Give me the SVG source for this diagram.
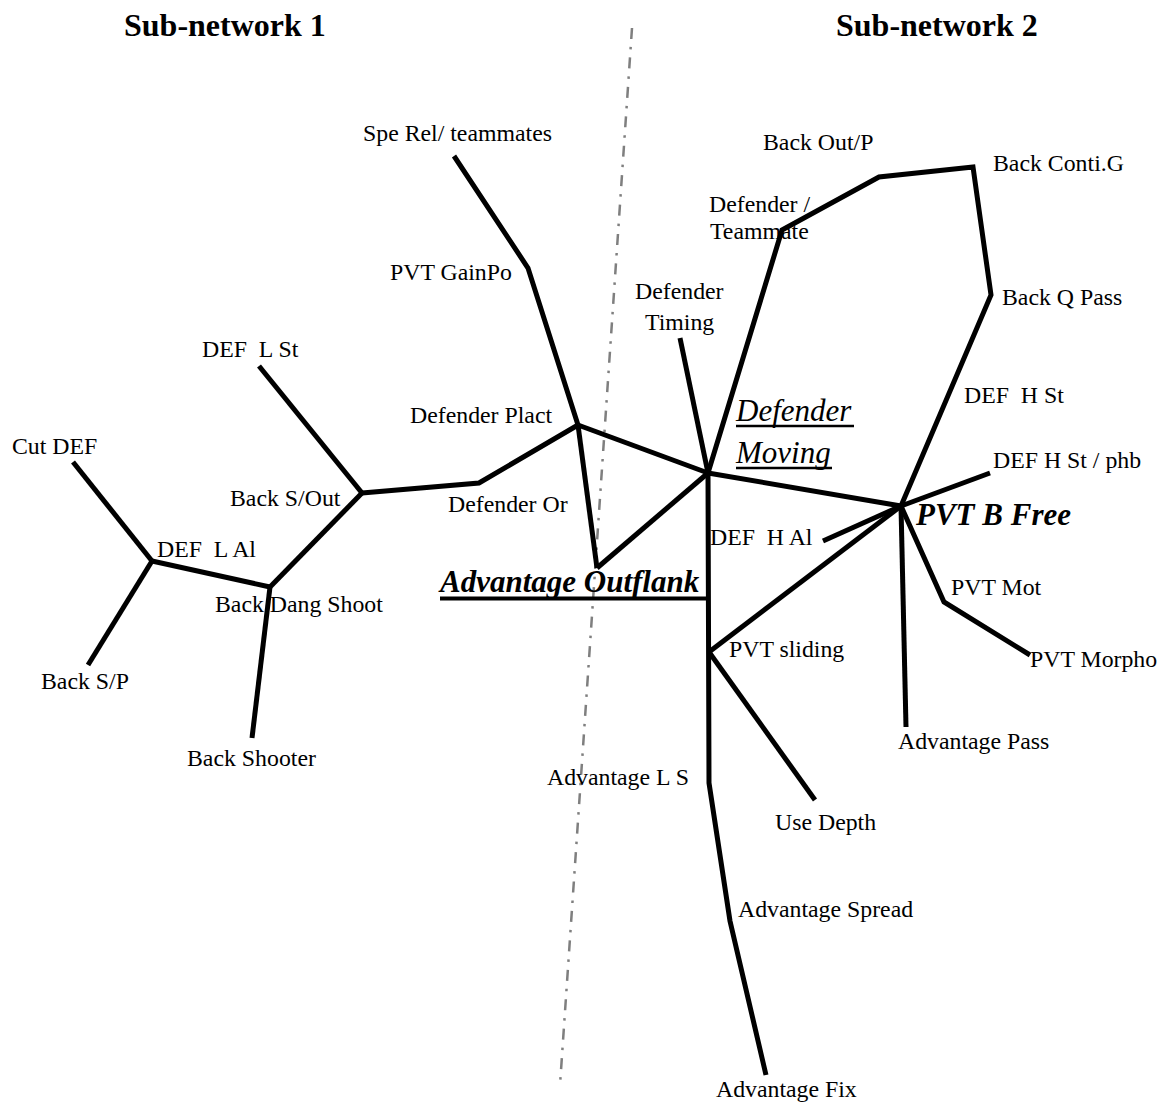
<svg xmlns="http://www.w3.org/2000/svg" width="1167" height="1104" viewBox="0 0 1167 1104">
<style>
text{font-family:"Liberation Serif","Times New Roman",serif;fill:#000;white-space:pre}
.lb{font-size:23.8px}
.ti{font-size:32px;font-weight:bold}
.big{font-size:31px;font-style:italic}
.bb{font-weight:bold}
.e{fill:none;stroke:#000;stroke-width:5;stroke-linejoin:miter}
.ul{stroke:#000;stroke-width:2.5}
.div{fill:none;stroke:#7f7f7f;stroke-width:2.5;stroke-dasharray:11 8 2.5 8}
</style>
<rect width="1167" height="1104" fill="#fff"/>
<line id="divider" class="div" x1="632" y1="28" x2="560" y2="1085"/>
<g id="titles">
<text class="ti" x="124" y="36">Sub-network 1</text>
<text class="ti" x="836" y="36">Sub-network 2</text>
</g>
<g id="connectors">
<line class="e" x1="73" y1="462" x2="152" y2="561"/>
<line class="e" x1="152" y1="561" x2="88" y2="665"/>
<line class="e" x1="152" y1="561" x2="270" y2="587"/>
<line class="e" x1="270" y1="587" x2="252" y2="738"/>
<line class="e" x1="270" y1="587" x2="362" y2="493"/>
<line class="e" x1="362" y1="493" x2="259" y2="366"/>
<polyline class="e" points="362,493 479,483 578,425"/>
<polyline class="e" points="578,425 528,268 454,156"/>
<line class="e" x1="578" y1="425" x2="597" y2="568"/>
<line class="e" x1="597" y1="568" x2="708" y2="473"/>
<line class="e" x1="578" y1="425" x2="708" y2="473"/>
<line class="e" x1="680" y1="338" x2="708" y2="473"/>
<polyline class="e" points="708,473 782,230 879,177 973,167 991,295 901,506"/>
<line class="e" x1="708" y1="473" x2="901" y2="506"/>
<line class="e" x1="901" y1="506" x2="990" y2="473"/>
<line class="e" x1="901" y1="506" x2="823" y2="541"/>
<line class="e" x1="901" y1="506" x2="709" y2="652"/>
<polyline class="e" points="901,506 944,602 1030,655"/>
<line class="e" x1="901" y1="506" x2="906" y2="727"/>
<polyline class="e" points="708,473 709,783 730,921 766,1075"/>
<line class="e" x1="709" y1="652" x2="815" y2="800"/>
</g>
<g id="n-cut-def"><text class="lb" x="12" y="454">Cut DEF</text></g>
<g id="n-def-l-al"><text class="lb" x="157" y="557">DEF  L Al</text></g>
<g id="n-back-sp"><text class="lb" x="41" y="689">Back S/P</text></g>
<g id="n-back-dang-shoot"><text class="lb" x="215" y="612">Back Dang Shoot</text></g>
<g id="n-back-shooter"><text class="lb" x="187" y="766">Back Shooter</text></g>
<g id="n-back-s-out"><text class="lb" x="230" y="506">Back S/Out</text></g>
<g id="n-def-l-st"><text class="lb" x="202" y="357">DEF  L St</text></g>
<g id="n-defender-or"><text class="lb" x="448" y="512">Defender Or</text></g>
<g id="n-defender-plact"><text class="lb" x="410" y="423">Defender Plact</text></g>
<g id="n-pvt-gainpo"><text class="lb" x="390" y="280">PVT GainPo</text></g>
<g id="n-spe-rel"><text class="lb" x="363" y="141">Spe Rel/ teammates</text></g>
<g id="n-advantage-outflank">
<text class="big bb" x="440" y="592">Advantage Outflank</text>
<line x1="440" y1="598.5" x2="708" y2="598.5" stroke="#000" stroke-width="4"/>
</g>
<g id="n-defender-moving">
<text class="big" x="736" y="421">Defender</text>
<line class="ul" x1="736" y1="426" x2="854" y2="426"/>
<text class="big" x="736" y="463">Moving</text>
<line class="ul" x1="736" y1="468" x2="832" y2="468"/>
</g>
<g id="n-defender-timing">
<text class="lb" x="635" y="299">Defender</text>
<text class="lb" x="645" y="330">Timing</text>
</g>
<g id="n-defender-teammate">
<text class="lb" x="709" y="212">Defender /</text>
<text class="lb" x="710" y="239">Teammate</text>
</g>
<g id="n-back-out-p"><text class="lb" x="763" y="150">Back Out/P</text></g>
<g id="n-back-conti-g"><text class="lb" x="993" y="171">Back Conti.G</text></g>
<g id="n-back-q-pass"><text class="lb" x="1002" y="305">Back Q Pass</text></g>
<g id="n-def-h-st"><text class="lb" x="964" y="403">DEF  H St</text></g>
<g id="n-def-h-st-phb"><text class="lb" x="993" y="468">DEF H St / phb</text></g>
<g id="n-pvt-b-free"><text class="big bb" x="916" y="525">PVT B Free</text></g>
<g id="n-def-h-al"><text class="lb" x="710" y="545">DEF  H Al</text></g>
<g id="n-pvt-mot"><text class="lb" x="951" y="595">PVT Mot</text></g>
<g id="n-pvt-morpho"><text class="lb" x="1030" y="667">PVT Morpho</text></g>
<g id="n-pvt-sliding"><text class="lb" x="729" y="657">PVT sliding</text></g>
<g id="n-advantage-pass"><text class="lb" x="898" y="749">Advantage Pass</text></g>
<g id="n-advantage-ls"><text class="lb" x="547" y="785">Advantage L S</text></g>
<g id="n-use-depth"><text class="lb" x="775" y="830">Use Depth</text></g>
<g id="n-advantage-spread"><text class="lb" x="738" y="917">Advantage Spread</text></g>
<g id="n-advantage-fix"><text class="lb" x="716" y="1097">Advantage Fix</text></g>
</svg>
